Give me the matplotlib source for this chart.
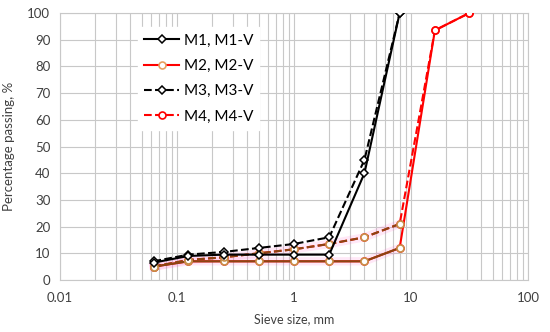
import numpy as np
import matplotlib.pyplot as plt
from matplotlib.ticker import FixedLocator, NullFormatter, LogLocator

sieve = [0.063, 0.125, 0.25, 0.5, 1, 2, 4, 8, 16, 31.5]

m1 = [6.5, 9, 9.5, 9.5, 9.5, 9.5, 40, 100]
m3 = [7, 9.5, 10.5, 12, 13.5, 16, 45, 100]
m2 = [5, 7, 7, 7, 7, 7, 7, 12, 93.5, 100]
m4 = [5, 7.5, 8.5, 10, 11.5, 13.5, 16, 21, 93.5, 100]

plt.rcParams['font.family'] = ['Lato', 'DejaVu Sans']

fig = plt.figure(figsize=(5.5, 3.32), dpi=100)
ax = fig.add_axes([60 / 550, 1 - 280 / 332, 468 / 550, 267 / 332])

ax.set_xscale("log")
ax.set_xlim(0.01, 100)
ax.set_ylim(0, 100)

# faint pink glow under the lower part of the red curves
ax.plot(sieve[:8], m2[:8], color="#ff66cc", lw=6, alpha=0.15, zorder=2)
ax.plot(sieve[:8], m4[:8], color="#ff66cc", lw=6, alpha=0.15, zorder=2)

mk = dict(ms=5, mfc="white", mew=1.2)
ax.plot(sieve, m2, "-", color="red", marker="o", mec="red", lw=1.5, zorder=3, **mk)
ax.plot(sieve, m4, "--", color="red", marker="o", mec="red", lw=1.5, zorder=3, **mk)
# brown overlay on the fine fractions
ax.plot(sieve[:8], m2[:8], "-", color="#8b4513", marker="o", mec="#c8904a", lw=1.5, zorder=4, **mk)
ax.plot(sieve[:8], m4[:8], "--", color="#8b4513", marker="o", mec="#c8904a", lw=1.5, zorder=4, **mk)

dk = dict(ms=4, mfc="white", mew=1.1, mec="black")
ax.plot(sieve[:8], m3, "--", color="black", marker="D", lw=1.5, zorder=5, **dk)
ax.plot(sieve[:8], m1, "-", color="black", marker="D", lw=1.5, zorder=5, **dk)

h1, = ax.plot([], [], "-", color="black", marker="D", lw=1.5, **dk)
h2, = ax.plot([], [], "-", color="red", marker="o", mec="#e8a060", lw=1.5, **mk)
h3, = ax.plot([], [], "--", color="black", marker="D", lw=1.5, **dk)
h4, = ax.plot([], [], "--", color="red", marker="o", mec="red", lw=1.5, **mk)
leg = ax.legend([h1, h2, h3, h4], ["M1, M1-V", "M2, M2-V", "M3, M3-V", "M4, M4-V"],
                loc="upper left", bbox_to_anchor=(0.15, 0.975), frameon=True,
                fancybox=False, edgecolor="white", framealpha=1, fontsize=11,
                handlelength=2.3, handletextpad=0.3, labelspacing=0.75, borderpad=0.4)
leg.set_zorder(6)

ax.xaxis.set_major_locator(FixedLocator([0.01, 0.1, 1, 10, 100]))
ax.xaxis.set_major_formatter(plt.FuncFormatter(lambda v, p: "%g" % v))
ax.xaxis.set_minor_locator(LogLocator(base=10, subs=np.arange(2, 10)))
ax.xaxis.set_minor_formatter(NullFormatter())
ax.set_yticks(np.arange(0, 101, 10))

ax.grid(True, which="both", axis="x", color="#c8c8c8", lw=0.8)
ax.grid(True, which="major", axis="y", color="#c8c8c8", lw=0.8)
ax.set_axisbelow(True)
for s in ax.spines.values():
    s.set_color("#c8c8c8")
    s.set_linewidth(0.8)
ax.tick_params(which="both", length=0, labelsize=9.5, colors="#404040")
ax.tick_params(axis="x", pad=9)
ax.tick_params(axis="y", pad=7)

ax.set_xlabel("Sieve size, mm", fontsize=9, color="#404040", labelpad=6)
ax.set_ylabel("Percentage passing, %", fontsize=9.5, color="#404040", labelpad=9)

fig.savefig("out.png", dpi=100)
